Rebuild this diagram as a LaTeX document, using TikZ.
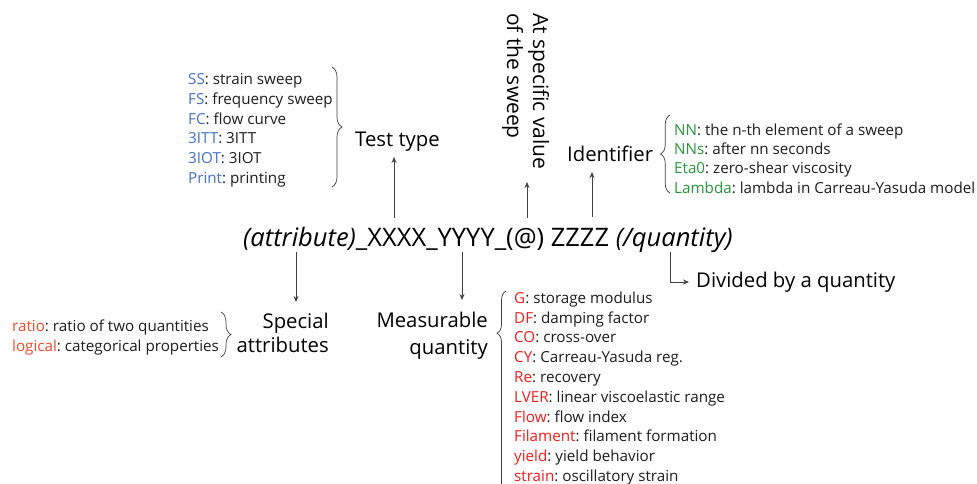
\documentclass[tikz,border=0pt]{standalone}
\usepackage{fontspec}
\setmainfont{Open Sans}
\usetikzlibrary{decorations.pathreplacing,arrows.meta}
\definecolor{tblue}{RGB}{68,114,196}
\definecolor{tgreen}{RGB}{40,150,60}
\definecolor{tred}{RGB}{240,30,30}
\definecolor{torange}{RGB}{240,75,45}
\definecolor{ink}{RGB}{30,30,30}
\frenchspacing
\begin{document}
\begin{tikzpicture}[x=1pt,y=-1pt,
  lbl/.style={inner sep=0pt, anchor=base west, font=\fontsize{15.2}{18}\selectfont, text=ink},
  ttl/.style={inner sep=0pt, font=\fontsize{20.3}{24}\selectfont, text=black},
  arr/.style={draw=black!75, line width=0.8pt, -{Stealth[length=6pt,width=5pt]}},
  brc/.style={draw=black!75, line width=0.7pt, decorate, decoration={brace, amplitude=10pt}}]
\clip (0,0) rectangle (977,483);
\fill[white] (0,0) rectangle (977,483);

% main line
\node[inner sep=0pt, anchor=base west, font=\fontsize{25.5}{30}\selectfont] (main) at (243,246)
  {{\itshape(attribute)}\_XXXX\_YYYY\_(@) ZZZZ {\itshape(/quantity)}};

% test type
\foreach \k/\d [count=\i from 0] in {SS/strain sweep, FS/frequency sweep, FC/flow curve, 3ITT/3ITT, 3IOT/3IOT, Print/printing}
  \node[lbl] (tl\i) at (188,{84.5+19.8*\i}) {\textcolor{tblue}{\k}: \d};
\draw[brc] (332,67) -- (332,187);
\node[ttl, anchor=base west] (tt) at (355,146) {Test type};
\coordinate (a1s) at (394,218);
\coordinate (a1e) at (394,157);
\draw[arr] (a1s) -- (a1e);

% at specific value
\node[ttl, rotate=-90, anchor=base west, font=\fontsize{21}{24}\selectfont] (at1) at (533,13) {At specific value};
\node[ttl, rotate=-90, anchor=base west, font=\fontsize{21}{24}\selectfont] (at2) at (507,13) {of the sweep};
\coordinate (a2s) at (527,218);
\coordinate (a2e) at (527,182);
\draw[arr] (a2s) -- (a2e);

% identifier
\node[ttl, anchor=base west] (id) at (567,161) {Identifier};
\coordinate (a3s) at (592,217);
\coordinate (a3e) at (592,172);
\draw[arr] (a3s) -- (a3e);
\draw[brc, decoration={brace, amplitude=9.5pt}] (670,193) -- (670,115);
\foreach \k/\d [count=\i from 0] in {NN/the n-th element of a sweep, NNs/after nn seconds, Eta0/zero-shear viscosity, Lambda/lambda in Carreau-Yasuda model}
  \node[lbl] (il\i) at (674,{135.5+19.2*\i}) {\textcolor{tgreen}{\k}: \d};

% special attributes
\coordinate (a4s) at (296,252);
\coordinate (a4e) at (296,302);
\draw[arr] (a4s) -- (a4e);
\node[ttl, anchor=base east] (sp1) at (329,328) {Special};
\node[ttl, anchor=base east] (sp2) at (329,352) {attributes};
\draw[brc, decoration={brace, amplitude=10pt}] (221,312) -- (221,357);
\node[lbl] (sl0) at (12,331.5) {\textcolor{torange}{ratio}: ratio of two quantities};
\node[lbl] (sl1) at (12,351) {\textcolor{torange}{logical}: categorical properties};

% measurable quantity
\coordinate (a5s) at (462,252);
\coordinate (a5e) at (462,300);
\draw[arr] (a5s) -- (a5e);
\node[ttl, anchor=base east] (mq1) at (488,327) {Measurable};
\node[ttl, anchor=base east] (mq2) at (488,354) {quantity};
\draw[brc, decoration={brace, amplitude=9pt, aspect=0.79}] (506,492) -- (506,291);
\foreach \k/\d [count=\i from 0] in {G/storage modulus, DF/damping factor, CO/cross-over, CY/Carreau-Yasuda reg., Re/recovery, LVER/linear viscoelastic range, Flow/flow index, Filament/filament formation, yield/yield behavior, strain/oscillatory strain}
  \node[lbl] (ml\i) at (514,{303.3+19.8*\i}) {\textcolor{tred}{\k}: \d};

% divided by a quantity
\node[ttl, anchor=base west] (dq) at (696,287) {Divided by a quantity};
\coordinate (a6s) at (670,252);
\coordinate (a6c) at (670,282);
\draw[arr, shorten >=7pt] (a6s) -- (a6c) -- (dq.west |- a6c);
\end{tikzpicture}
\end{document}
